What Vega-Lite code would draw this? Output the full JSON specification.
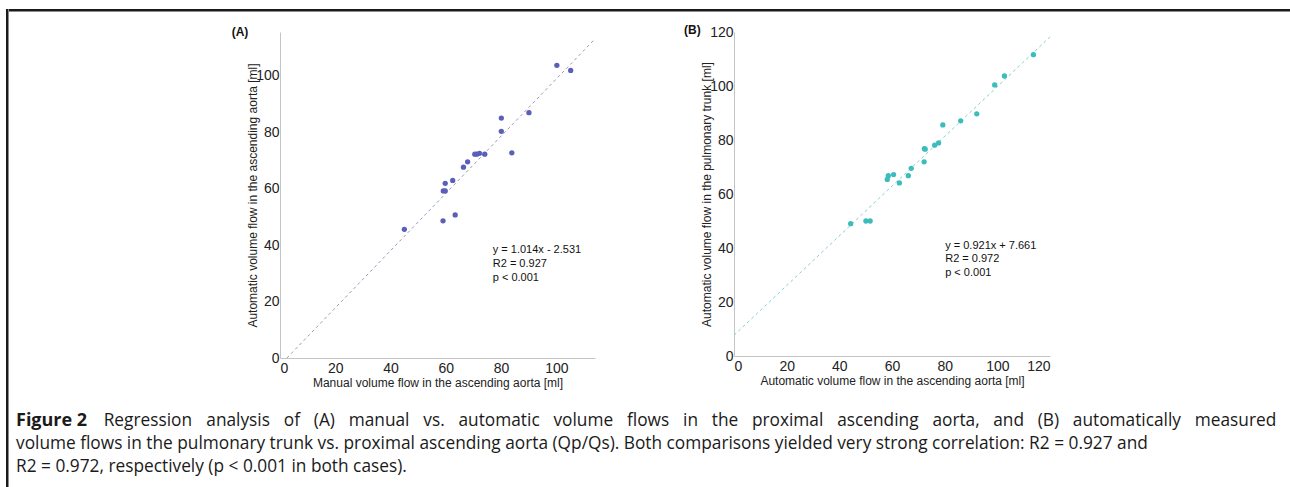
{
  "$schema": "https://vega.github.io/schema/vega-lite/v6.json",
  "padding": {"left": 6, "top": 9, "right": 0, "bottom": 0},
  "background": "white",
  "config": {
    "view": {"stroke": null},
    "axis": {
      "ticks": false, "tickSize": 0, "grid": false, "domainColor": "#c4c4c4", "domainWidth": 1,
      "labelFont": "Liberation Sans", "labelFontSize": 14, "labelColor": "#222222",
      "titleFont": "Liberation Sans", "titleFontSize": 12, "titleFontWeight": "normal", "titleColor": "#222222"
    },
    "axisX": {"labelPadding": 3, "titlePadding": 2},
    "axisY": {"labelPadding": 1, "titleX": -21}
  },
  "spacing": 0,
  "hconcat": [
    {
      "width": 0.5, "height": 477,
      "data": {"values": []},
      "mark": "point",
      "view": {"stroke": "#1a1a1a", "strokeWidth": 2, "fill": null}
    },
    {
      "spacing": 12,
      "vconcat": [
        {
          "width": 1283, "height": 0.5,
          "data": {"values": []},
          "mark": "point",
          "view": {"stroke": "#1a1a1a", "strokeWidth": 2, "fill": null}
        },
        {
          "spacing": 21,
          "vconcat": [
            {
              "spacing": 86,
              "hconcat": [
                {
                  "width": 135, "height": 10,
                  "data": {"values": []},
                  "mark": "point"
                },
                {
                  "width": 315, "height": 326,
                  "encoding": {
                    "x": {"field": "x", "type": "quantitative", "scale": {"domain": [0, 114], "nice": false},
                          "axis": {"title": "Manual volume flow in the ascending aorta [ml]", "values": [0, 20, 40, 60, 80, 100]}},
                    "y": {"field": "y", "type": "quantitative", "scale": {"domain": [0, 115.5], "nice": false},
                          "axis": {"title": "Automatic volume flow in the ascending aorta [ml]", "values": [0, 20, 40, 60, 80, 100]}}
                  },
                  "layer": [
                    {
                      "data": {"values": [{"x": 2.496, "y": 0}, {"x": 114, "y": 113.07}]},
                      "mark": {"type": "line", "color": "#9a9ab8", "strokeWidth": 1, "strokeDash": [3, 3]}
                    },
                    {
                      "data": {"values": [
                        {"x": 100.2, "y": 103.7}, {"x": 105.2, "y": 101.9}, {"x": 90.1, "y": 86.9}, {"x": 80.1, "y": 85.0},
                        {"x": 80.1, "y": 80.3}, {"x": 83.9, "y": 72.7}, {"x": 70.5, "y": 72.2}, {"x": 71.2, "y": 72.2},
                        {"x": 72.2, "y": 72.5}, {"x": 74.1, "y": 72.2}, {"x": 67.9, "y": 69.5}, {"x": 66.4, "y": 67.6},
                        {"x": 62.5, "y": 62.9}, {"x": 59.8, "y": 61.9}, {"x": 59.1, "y": 59.2}, {"x": 59.8, "y": 59.2},
                        {"x": 63.4, "y": 50.7}, {"x": 45.0, "y": 45.6}, {"x": 59.0, "y": 48.6}
                      ]},
                      "mark": {"type": "circle", "size": 28, "color": "#5a5fba", "opacity": 1}
                    },
                    {
                      "data": {"values": [
                        {"x": 77.0, "y": 37.2, "t": "y = 1.014x - 2.531"},
                        {"x": 77.0, "y": 32.3, "t": "R2 = 0.927"},
                        {"x": 77.0, "y": 27.3, "t": "p < 0.001"}
                      ]},
                      "mark": {"type": "text", "align": "left", "baseline": "alphabetic", "font": "Liberation Sans", "fontSize": 11, "color": "#111111"},
                      "encoding": {"text": {"field": "t"}}
                    },
                    {
                      "data": {"values": [{"x": -17.5, "y": 115.6, "t": "(A)"}]},
                      "mark": {"type": "text", "align": "left", "baseline": "middle", "font": "Liberation Sans", "fontSize": 12, "fontWeight": "bold", "color": "#111111"},
                      "encoding": {"text": {"field": "t"}}
                    }
                  ]
                },
                {
                  "width": 316, "height": 324,
                  "encoding": {
                    "x": {"field": "x", "type": "quantitative", "scale": {"domain": [0, 120], "nice": false},
                          "axis": {"title": "Automatic volume flow in the ascending aorta [ml]", "values": [0, 20, 40, 60, 80, 100, 120]}},
                    "y": {"field": "y", "type": "quantitative", "scale": {"domain": [0, 120], "nice": false},
                          "axis": {"title": "Automatic volume flow in the pulmonary trunk [ml]", "values": [0, 20, 40, 60, 80, 100, 120]}}
                  },
                  "layer": [
                    {
                      "data": {"values": [{"x": 0, "y": 7.661}, {"x": 120, "y": 118.18}]},
                      "mark": {"type": "line", "color": "#85d0d0", "strokeWidth": 1, "strokeDash": [3, 3]}
                    },
                    {
                      "data": {"values": [
                        {"x": 113.7, "y": 111.6}, {"x": 102.7, "y": 103.7}, {"x": 99.0, "y": 100.4}, {"x": 92.2, "y": 89.7},
                        {"x": 86.1, "y": 87.1}, {"x": 79.3, "y": 85.6}, {"x": 77.7, "y": 78.9}, {"x": 76.2, "y": 78.1},
                        {"x": 72.3, "y": 76.8}, {"x": 72.6, "y": 76.6}, {"x": 72.2, "y": 71.9}, {"x": 67.3, "y": 69.5},
                        {"x": 66.2, "y": 66.8}, {"x": 62.8, "y": 64.1}, {"x": 60.6, "y": 67.2}, {"x": 58.6, "y": 66.8},
                        {"x": 58.2, "y": 65.4}, {"x": 44.3, "y": 49.0}, {"x": 50.1, "y": 50.0}, {"x": 51.7, "y": 50.0}
                      ]},
                      "mark": {"type": "circle", "size": 28, "color": "#3cbcbc", "opacity": 1}
                    },
                    {
                      "data": {"values": [
                        {"x": 80.2, "y": 39.7, "t": "y = 0.921x + 7.661"},
                        {"x": 80.2, "y": 34.7, "t": "R2 = 0.972"},
                        {"x": 80.2, "y": 29.5, "t": "p < 0.001"}
                      ]},
                      "mark": {"type": "text", "align": "left", "baseline": "alphabetic", "font": "Liberation Sans", "fontSize": 11, "color": "#111111"},
                      "encoding": {"text": {"field": "t"}}
                    },
                    {
                      "data": {"values": [{"x": -19, "y": 120.6, "t": "(B)"}]},
                      "mark": {"type": "text", "align": "left", "baseline": "middle", "font": "Liberation Sans", "fontSize": 12, "fontWeight": "bold", "color": "#111111"},
                      "encoding": {"text": {"field": "t"}}
                    }
                  ]
                }
              ]
            },
            {
              "width": 1270, "height": {"step": 23},
              "encoding": {
                "x": {"field": "x", "type": "quantitative", "scale": {"domain": [-6, 1264], "nice": false}, "axis": null},
                "y": {"field": "line", "type": "ordinal", "axis": null},
                "text": {"field": "t"}
              },
              "layer": [
                {
                  "data": {"values": [{"line": 1, "x": 0, "t": "Figure 2"}]},
                  "mark": {"type": "text", "align": "left", "baseline": "middle", "font": "Open Sans", "fontSize": 18, "fontWeight": "bold", "color": "#1a1a1a"}
                },
                {
                  "data": {"values": [
                    {"line": 1, "x": 87.7, "t": "Regression"},
                    {"line": 1, "x": 190.3, "t": "analysis"},
                    {"line": 1, "x": 267.8, "t": "of"},
                    {"line": 1, "x": 297.8, "t": "(A)"},
                    {"line": 1, "x": 332.7, "t": "manual"},
                    {"line": 1, "x": 407.3, "t": "vs."},
                    {"line": 1, "x": 442.5, "t": "automatic"},
                    {"line": 1, "x": 537.4, "t": "volume"},
                    {"line": 1, "x": 611.0, "t": "flows"},
                    {"line": 1, "x": 667.1, "t": "in"},
                    {"line": 1, "x": 695.8, "t": "the"},
                    {"line": 1, "x": 735.9, "t": "proximal"},
                    {"line": 1, "x": 821.2, "t": "ascending"},
                    {"line": 1, "x": 916.4, "t": "aorta,"},
                    {"line": 1, "x": 977.2, "t": "and"},
                    {"line": 1, "x": 1021.7, "t": "(B)"},
                    {"line": 1, "x": 1056.8, "t": "automatically"},
                    {"line": 1, "x": 1178.8, "t": "measured"},
                    {"line": 2, "x": 0, "t": "volume flows in the pulmonary trunk vs. proximal ascending aorta (Qp/Qs). Both comparisons yielded very strong correlation: R2 = 0.927 and"},
                    {"line": 3, "x": 0, "t": "R2 = 0.972, respectively (p < 0.001 in both cases)."}
                  ]},
                  "mark": {"type": "text", "align": "left", "baseline": "middle", "font": "Open Sans", "fontSize": 17.3, "color": "#1a1a1a"}
                }
              ]
            }
          ]
        }
      ]
    }
  ]
}
